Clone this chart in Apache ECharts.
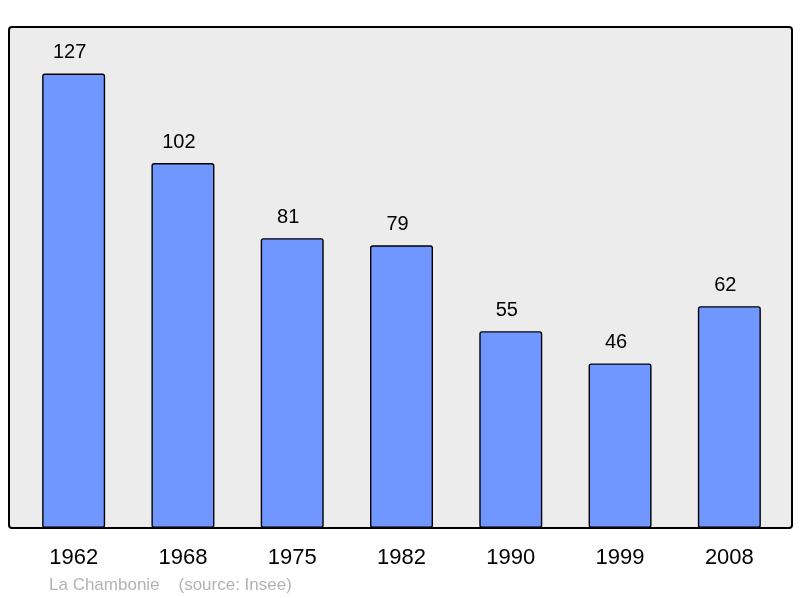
<!DOCTYPE html>
<html><head><meta charset="utf-8">
<script src="https://cdn.jsdelivr.net/npm/echarts@6/dist/echarts.min.js"></script>
<style>html,body{margin:0;padding:0;background:#fff}#c{width:800px;height:598px}</style>
</head><body><div id="c"></div>
<script>
var categories = ['1962','1968','1975','1982','1990','1999','2008'];
var population = [127, 102, 81, 79, 55, 46, 62];
var caption = 'La Chambonie    (source: Insee)';

var chart = echarts.init(document.getElementById('c'), null, {renderer:'canvas'});
chart.setOption({
  animation: false,
  backgroundColor: '#ffffff',
  graphic: [
    {type:'rect', z: 0, shape:{x:9, y:27, width:783, height:501, r:3},
     style:{fill:'#ececec', stroke:'#000', lineWidth:2}},
    {type:'text', left: 49, top: 577, z: 10,
     style:{text: caption, fill:'#b3b3b3', font:'17px "Liberation Sans", Arial, sans-serif'}}
  ],
  grid: {left: 19, right: 16, top: 27, bottom: 70, containLabel: false},
  xAxis: {
    type: 'category', data: categories,
    axisLine: {show: false}, axisTick: {show: false},
    axisLabel: {color:'#000', fontSize: 22, fontFamily:'"Liberation Sans", Arial, sans-serif', margin: 19}
  },
  yAxis: {
    type: 'value', min: 0, max: 140, show: false, splitLine:{show:false}
  },
  series: [{
    type: 'bar', data: population, barWidth: 63, z: 5,
    itemStyle: {color:'#7096ff', borderColor:'#000', borderWidth: 1.4, borderRadius: 2},
    label: {show: true, position: 'top', distance: 11, offset: [-4, 0], color:'#000', fontSize: 20,
            fontFamily:'"Liberation Sans", Arial, sans-serif'}
  }]
});
</script></body></html>
